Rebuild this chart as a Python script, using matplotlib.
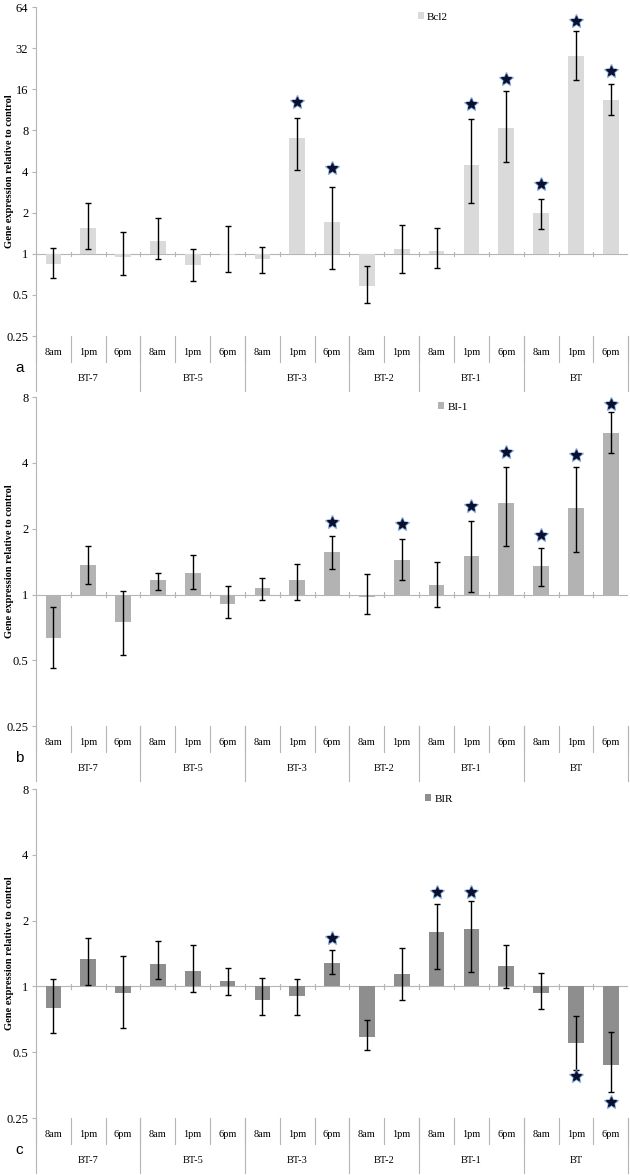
import numpy as np
import matplotlib
matplotlib.use("Agg")
import matplotlib.pyplot as plt
from matplotlib.ticker import FixedLocator, FixedFormatter
import matplotlib.transforms as mtrans

plt.rcParams['font.family'] = ['Liberation Serif', 'DejaVu Serif']

times = ['8am', '1pm', '6pm', '8am', '1pm', '6pm', '8am', '1pm', '6pm',
         '8am', '1pm', '8am', '1pm', '6pm', '8am', '1pm', '6pm']
groups = ['BT-7', 'BT-5', 'BT-3', 'BT-2', 'BT-1', 'BT']
group_sizes = [3, 3, 3, 2, 3, 3]
nan = np.nan

# panel a - Bcl2
bcl2 = [0.84, 1.55, 0.94, 1.24, 0.83, 0.98, 0.915, 7.0, 1.71, 0.58, 1.08, 1.05, 4.5, 8.4, 1.98, 28.1, 13.4]
bcl2_lo = [0.66, 1.08, 0.70, 0.915, 0.636, 0.73, 0.72, 4.14, 0.77, 0.44, 0.72, 0.79, 2.34, 4.7, 1.51, 18.8, 10.4]
bcl2_hi = [1.10, 2.34, 1.45, 1.82, 1.08, 1.6, 1.12, 9.85, 3.08, 0.81, 1.62, 1.55, 9.75, 15.6, 2.53, 42.7, 17.4]
bcl2_star = [nan, nan, nan, nan, nan, nan, nan, 12.9, 4.26, nan, nan, nan, 12.5, 19.1, 3.22, 50.8, 21.8]

# panel b - BI-1
bi1 = [0.635, 1.37, 0.75, 1.17, 1.25, 0.907, 1.07, 1.16, 1.57, 0.97, 1.44, 1.11, 1.5, 2.63, 1.355, 2.5, 5.46]
bi1_lo = [0.46, 1.12, 0.527, 1.05, 1.06, 0.78, 0.946, 0.946, 1.31, 0.817, 1.16, 0.88, 1.025, 1.67, 1.095, 1.56, 4.43]
bi1_hi = [0.88, 1.67, 1.035, 1.26, 1.51, 1.09, 1.19, 1.38, 1.86, 1.24, 1.8, 1.41, 2.16, 3.85, 1.63, 3.85, 6.86]
bi1_star = [nan, nan, nan, nan, nan, nan, nan, nan, 2.15, nan, 2.11, nan, 2.54, 4.5, 1.87, 4.34, 7.46]

# panel c - BIR
bir = [0.80, 1.33, 0.935, 1.26, 1.175, 1.06, 0.87, 0.903, 1.28, 0.59, 1.14, 1.77, 1.84, 1.24, 0.935, 0.552, 0.435]
bir_lo = [0.61, 1.01, 0.647, 1.077, 0.945, 0.912, 0.742, 0.742, 1.14, 0.514, 0.866, 1.196, 1.17, 0.98, 0.785, 0.414, 0.33]
bir_hi = [1.085, 1.66, 1.38, 1.62, 1.54, 1.21, 1.096, 1.077, 1.46, 0.70, 1.5, 2.37, 2.45, 1.55, 1.155, 0.73, 0.62]
bir_star = [nan, nan, nan, nan, nan, nan, nan, nan, 1.67, nan, nan, 2.69, 2.71, nan, nan, 0.388, 0.295]

panels = [
    ('Bcl2', bcl2, bcl2_lo, bcl2_hi, bcl2_star, '#dadada', 64, 'a', 0.714, 0.637),
    ('BI-1', bi1, bi1_lo, bi1_hi, bi1_star, '#b3b3b3', 8, 'b', 0.382, 0.672),
    ('BIR', bir, bir_lo, bir_hi, bir_star, '#8e8e8e', 8, 'c', 0.0485, 0.650),
]

fig = plt.figure(figsize=(6.3, 11.75), dpi=100)
line_gray = '#b5b5b5'

for name, vals, lo, hi, star, color, ytop, letter, bottom, legx in panels:
    ax = fig.add_axes([0.0571, bottom, 0.940, 0.280])
    vals = np.array(vals)
    x = np.arange(len(vals))
    yerr = [vals - np.array(lo), np.array(hi) - vals]
    ax.bar(x, vals - 1, bottom=1, width=0.45, color=color, label=name, zorder=2)
    ax.errorbar(x, vals, yerr=yerr, fmt='none', ecolor='black', elinewidth=1,
                capsize=2.2, capthick=1, zorder=3)
    # significance stars
    ax.plot(x, star, linestyle='none', marker='*', markersize=10.5,
            color='#5b8fd0', alpha=0.7, zorder=4)
    ax.plot(x, star, linestyle='none', marker='*', markersize=7,
            color='#0c1030', zorder=5)

    ax.set_yscale('log', base=2)
    ax.set_ylim(0.25, ytop)
    ax.set_xlim(-0.5, len(vals) - 0.5)
    ticks = [0.25 * 2 ** i for i in range(int(np.log2(ytop / 0.25)) + 1)]
    ax.yaxis.set_major_locator(FixedLocator(ticks))
    ax.yaxis.set_major_formatter(FixedFormatter([('%g' % t) for t in ticks]))
    ax.yaxis.set_minor_locator(FixedLocator([]))
    ax.tick_params(axis='y', labelsize=9, length=3, color=line_gray, width=0.8, pad=2.5)
    ax.set_xticks([])

    for s in ['top', 'right', 'bottom']:
        ax.spines[s].set_visible(False)
    ax.spines['left'].set_color(line_gray)
    ax.spines['left'].set_linewidth(0.8)

    # horizontal axis at 1 with small ticks at category borders
    ax.axhline(1, color=line_gray, linewidth=0.8, zorder=1)
    for b in np.arange(0.5, len(vals) - 0.5, 1.0):
        ax.plot([b, b], [1 / 1.03, 1.03], color=line_gray, linewidth=0.8, zorder=1)

    ax.set_ylabel('Gene expression relative to control', fontsize=7.5, fontweight='bold')
    ax.yaxis.set_label_coords(-0.037, 0.5)

    # category and group labels under the axes
    tr = mtrans.blended_transform_factory(ax.transData, ax.transAxes)
    for i, t in enumerate(times):
        ax.text(i, -0.05, t, transform=tr, ha='center', va='center', fontsize=7.5)
    for b in np.arange(-0.5, len(vals), 1.0):
        ax.plot([b, b], [0, -0.08], transform=tr, color=line_gray,
                linewidth=0.8, clip_on=False)
    edges = np.concatenate([[0], np.cumsum(group_sizes)]) - 0.5
    for g, a0, a1 in zip(groups, edges[:-1], edges[1:]):
        ax.text((a0 + a1) / 2, -0.13, g, transform=tr, ha='center', va='center', fontsize=7.5)
    for e in edges:
        ax.plot([e, e], [0, -0.168], transform=tr, color=line_gray,
                linewidth=0.8, clip_on=False)

    ax.legend(loc='center left', bbox_to_anchor=(legx, 0.97), frameon=False,
              fontsize=8, handlelength=0.55, handleheight=0.55, handletextpad=0.3,
              borderaxespad=0)

    fig.text(0.024, bottom - 0.027, letter, fontsize=11, family='Liberation Sans',
             ha='left', va='center')

fig.savefig('out.png', dpi=100)
